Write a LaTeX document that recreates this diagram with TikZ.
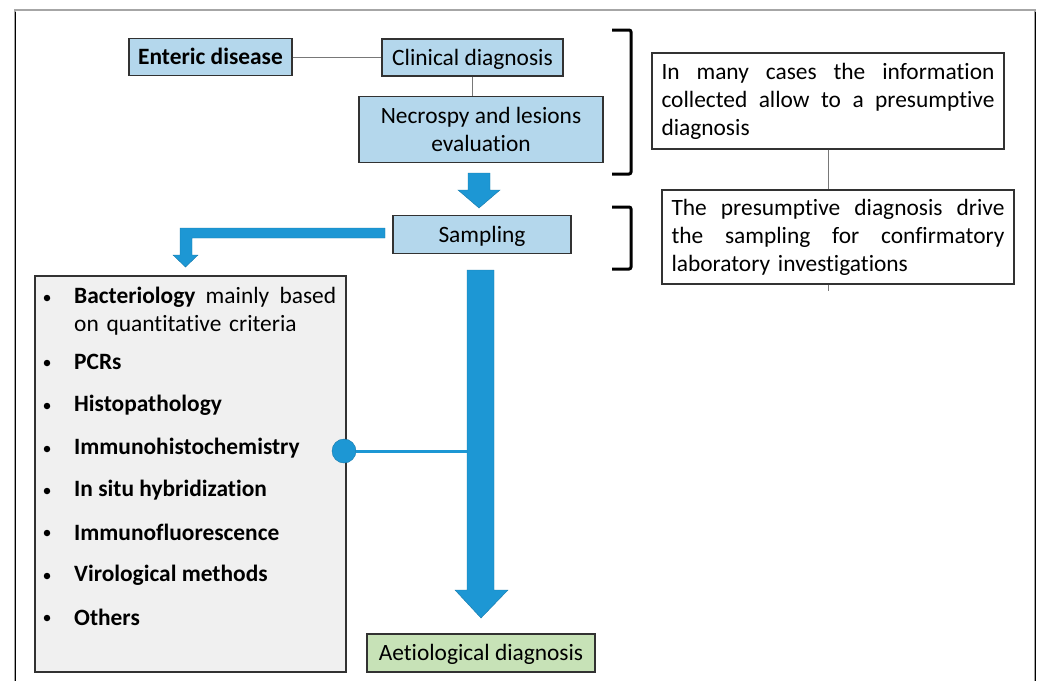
\documentclass[tikz,border=0pt]{standalone}
\usepackage{fontspec}
\setmainfont{Carlito}[Ligatures=NoCommon]
\usetikzlibrary{calc}
\definecolor{arrowblue}{RGB}{29,151,212}
\definecolor{boxblue}{RGB}{180,215,236}
\definecolor{boxgreen}{RGB}{199,226,183}
\definecolor{listgray}{RGB}{240,240,240}
\definecolor{edge}{RGB}{50,50,50}
\definecolor{thinline}{RGB}{120,120,120}
% a line of text spread to a fixed width
\newcommand{\spreadline}[2]{\leavevmode\hbox to #1{#2}}
\begin{document}
\begin{tikzpicture}[x=1pt,y=-1pt,
  font=\fontsize{23.4}{28}\selectfont,
  stepbox/.style={draw=edge, line width=1.2pt, fill=boxblue, inner sep=0pt, align=center},
  oneline/.style={text height=17pt, text depth=2pt},
  notebox/.style={draw=edge, line width=1.2pt, fill=white, inner sep=0pt, text width=333pt, minimum width=352pt, align=left},
  blockarrow/.style={fill=arrowblue, draw=arrowblue!80!black, line width=0.4pt},
  brace/.style={line width=3pt, rounded corners=2pt},
  link/.style={draw=thinline, line width=0.8pt},
  item/.style={anchor=west, inner sep=0pt, font=\fontsize{23.4}{28}\selectfont\bfseries},
  dotmark/.style={circle, fill=black, inner sep=0pt, minimum size=6.5pt}]
\useasboundingbox (0,0) rectangle (1041,680);
% outer frame
\draw[line width=1.2pt, gray!70] (15,690) -- (15,10) -- (1035,10) -- (1035,690);
\draw[line width=1pt, black] (15,12) -- (15,690);
\draw[line width=1pt, black] (1035,12) -- (1035,690);

% upper chain
\node[stepbox, oneline, minimum width=163pt, minimum height=37pt, font=\fontsize{23.4}{28}\selectfont\bfseries] (enteric) at (210.5,57) {Enteric disease};
\node[stepbox, oneline, minimum width=181pt, minimum height=37pt] (clinical) at (472.5,57.5) {Clinical diagnosis};
\node[stepbox, minimum width=244pt, minimum height=66pt] (necropsy) at (481,129.5) {Necrospy and lesions\\evaluation};
\draw[link] (enteric.east) -- (enteric.east -| clinical.west);
\draw[link] (clinical.south) -- (clinical.south |- necropsy.north);

\node[stepbox, oneline, minimum width=178pt, minimum height=38pt] (sampling) at (482,234.5) {Sampling};
\node[stepbox, oneline, fill=boxgreen, minimum width=228pt, minimum height=38pt] (aetio) at (481,653) {Aetiological diagnosis};

% block arrows
\fill[blockarrow] (468,173) -- (490,173) -- (490,190) -- (500,190) -- (479,208) -- (458,190) -- (468,190) -- cycle;
\fill[blockarrow] (385,228) -- (385,238) -- (192,238) -- (192,255) -- (198,255) -- (185.5,267) -- (173,255) -- (180,255) -- (180,228) -- cycle;
\fill[blockarrow] (467,270) -- (494,270) -- (494,590) -- (508,590) -- (481,618) -- (455,590) -- (467,590) -- cycle;

% brackets
\draw[brace] (612,30) -- (631,30) -- (631,174) -- (612,174);
\draw[brace] (612,207) -- (631,207) -- (631,269) -- (612,269);

% notes
\node[notebox, minimum height=96pt] (note1) at (828,101) {%
\spreadline{333pt}{In\hfill many\hfill cases\hfill the\hfill information}\\
\spreadline{333pt}{collected\hfill allow\hfill to\hfill a\hfill presumptive}\\
diagnosis};
\node[notebox, minimum height=94pt] (note2) at (838,237) {%
\spreadline{333pt}{The\hfill presumptive\hfill diagnosis\hfill drive}\\
\spreadline{333pt}{the\hfill sampling\hfill for\hfill confirmatory}\\
laboratory investigations};
\draw[link] (note1.south) -- (note1.south |- note2.north);
\coordinate (tick) at (note1.south |- note2.south);
\draw[link] (tick) -- ++(0,6);

% list of laboratory methods
\node[draw=edge, line width=1.2pt, fill=listgray, minimum width=311pt, minimum height=396pt, inner sep=0pt] (methods) at (190.5,474) {};
\node[item, text width=262pt, align=left, font=\fontsize{23.4}{28}\selectfont] (m1) at (74,311.5) {%
\spreadline{262pt}{\textbf{Bacteriology}\hfill mainly\hfill based}\\on quantitative criteria};
\node[item] (m2) at (74,362) {PCRs};
\node[item] (m3) at (74,405) {Histopathology};
\node[item] (m4) at (74,448) {Immunohistochemistry};
\node[item] (m5) at (74,490) {In situ hybridization};
\node[item] (m6) at (74,532) {Immunofluorescence};
\node[item] (m7) at (74,575) {Virological methods};
\node[item] (m8) at (74,617) {Others};
\foreach \y in {298,363,406,449,491,533,576,618}
  \node[dotmark] at (47,\y) {};

% link from the list to the main arrow
\node[circle, fill=arrowblue, draw=arrowblue!80!black, line width=0.4pt, minimum size=24pt, inner sep=0pt] (dot) at (344,451) {};
\coordinate (shaft) at (467,451);
\draw[arrowblue, line width=3pt] (dot) -- (shaft);
\end{tikzpicture}
\end{document}
